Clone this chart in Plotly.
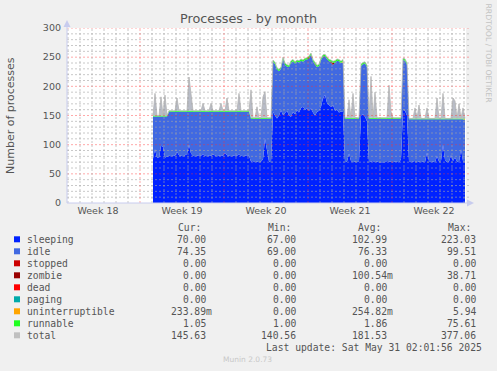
import numpy as np
import plotly.graph_objects as go

# ---------------- data ----------------
# time axis: hours since the Monday that opens "Week 18"; one sample every 4 hours
start_hour = 194
step_hours = 4

week_labels = ["Week 18", "Week 19", "Week 20", "Week 21", "Week 22"]
week_mid_hours = [84, 252, 420, 588, 756]

sleeping = [
    76, 92, 78, 77, 98, 96, 78, 80,
    81, 80, 82, 81, 88, 82, 81, 80, 82, 84, 100, 85, 81, 80, 81, 82, 81, 84, 81, 80,
    82, 81, 83, 81, 80, 81, 82, 81, 86, 82, 81, 80, 81, 82, 81, 84, 81, 80, 81, 82, 81,
    71, 72, 70, 71, 70, 71, 75, 110, 90, 71, 70,
    156, 150, 145, 150, 159, 151, 154, 158, 150, 148, 156, 152, 159, 155, 163, 165, 160, 162,
    158, 162, 155, 150, 156, 158, 165, 180, 185, 172, 168, 165, 168, 158, 160, 155, 157, 156,
    70, 71, 85, 72, 70, 71, 70, 72,
    150, 152, 148, 140,
    70, 71, 72, 70, 71, 70, 70, 71, 70, 72, 71, 70, 70, 71, 70, 70, 75,
    160, 158, 150,
    72, 70, 71, 72, 70, 71, 70, 71, 70, 86, 72, 70, 71, 70, 80, 71, 72, 100, 74, 70, 71,
    82, 72, 78, 71, 70, 92, 72, 70,
]

idle = [
    72.5, 56.5, 70.5, 71.5, 50.5, 52.5, 70.5, 68.5,
    75.5, 76.5, 74.5, 75.5, 68.5, 74.5, 75.5, 76.5, 74.5, 72.5, 56.5, 71.5, 75.5, 76.5, 75.5,
    74.5, 75.5, 72.5, 75.5, 76.5, 74.5, 75.5, 73.5, 75.5, 76.5, 75.5, 74.5, 75.5, 70.5, 74.5,
    75.5, 76.5, 75.5, 74.5, 75.5, 72.5, 75.5, 76.5, 75.5, 74.5, 75.5,
    73.5, 72.5, 74.5, 73.5, 74.5, 73.5, 69.5, 34.5, 54.5, 73.5, 74.5,
    86, 88, 84, 76, 71, 96, 83, 76, 83, 93, 87, 87, 83, 86, 81, 77, 85, 84,
    89.5, 92, 88, 87, 77, 77, 80, 71, 67, 75, 75, 75.5, 68.5, 83, 84, 88, 83, 85,
    74.5, 73.5, 59.5, 72.5, 74.5, 73.5, 74.5, 72.5,
    85, 86, 91, 93,
    74.5, 73.5, 72.5, 74.5, 73.5, 74.5, 74.5, 73.5, 74.5, 72.5, 73.5, 74.5, 74.5, 73.5, 74.5,
    74.5, 69.5,
    85, 86, 87,
    71.5, 73.5, 72.5, 71.5, 73.5, 72.5, 73.5, 72.5, 73.5, 57.5, 71.5, 73.5, 72.5, 73.5, 63.5,
    72.5, 71.5, 43.5, 69.5, 73.5, 72.5, 61.5, 71.5, 65.5, 72.5, 73.5, 51.5, 71.5, 72,
]

# sparse series: sample index -> value (all other samples are 0)
zombie_samples = {78: 1.5, 89: 1.5, 90: 3.5}
uninterruptible_samples = {95: 2.0, 156: 1.5}

runnable = [
    1.5, 1.5, 1.5, 1.5, 1.5, 1.5, 1.5, 1.5, 1.5, 1.5, 1.5, 1.5, 1.5, 1.5, 1.5, 1.5, 1.5, 1.5, 1.5, 1.5,
    1.5, 1.5, 1.5, 1.5, 1.5, 1.5, 1.5, 1.5, 1.5, 1.5, 1.5, 1.5, 1.5, 1.5, 1.5, 1.5, 1.5, 1.5, 1.5, 1.5,
    1.5, 1.5, 1.5, 1.5, 1.5, 1.5, 1.5, 1.5, 1.5, 1.5, 1.5, 1.5, 1.5, 1.5, 1.5, 1.5, 1.5, 1.5, 1.5, 1.5,
    3, 3, 3, 3, 3, 3, 3, 3, 3, 3, 3, 3, 3, 3, 3, 3, 3, 3,
    3, 3, 3, 3, 3, 3, 3, 3, 3, 3, 3, 3, 3, 3, 3, 3, 3, 3,
    1.5, 1.5, 1.5, 1.5, 1.5, 1.5, 1.5, 1.5,
    3, 3, 3, 3,
    1.5, 1.5, 1.5, 1.5, 1.5, 1.5, 1.5, 1.5, 1.5, 1.5, 1.5, 1.5, 1.5, 1.5, 1.5, 1.5, 1.5,
    3, 3, 3,
    1.5, 1.5, 1.5, 1.5, 1.5, 1.5, 1.5, 1.5, 1.5, 1.5, 1.5, 1.5, 1.5, 1.5, 1.5, 1.5, 1.5, 1.5, 1.5, 1.5,
    1.5, 1.5, 1.5, 1.5, 1.5, 1.5, 1.5, 1.5, 1.5,
]

total = [
    150, 188, 150, 150, 182, 150, 185, 150,
    158, 158, 158, 158, 180, 158, 158, 158, 158, 158, 216, 191, 158, 158, 158, 158, 158, 171,
    158, 158, 158, 171, 158, 158, 158, 158, 171, 158, 158, 180, 158, 158, 158, 158, 158, 188,
    158, 158, 158, 158, 158,
    194, 146, 146, 165, 146, 146, 182, 191, 146, 146, 146,
    245, 241, 232, 229, 233, 250, 240, 237, 236, 244, 246, 242, 245, 244, 247, 245, 248, 249,
    252, 257, 246, 240, 236, 238, 248, 254, 255, 250, 246, 245, 243, 244, 247, 246, 243, 246,
    146, 146, 177, 146, 188, 146, 146, 146,
    238, 241, 242, 236,
    146, 217, 146, 190, 146, 146, 146, 146, 146, 146, 202, 157, 146, 146, 146, 146, 146,
    248, 247, 240,
    145, 145, 145, 163, 145, 168, 145, 145, 145, 163, 145, 145, 145, 145, 180, 145, 145, 188,
    145, 145, 145, 145, 180, 175, 145, 170, 145, 163, 145,
]

n_points = len(sleeping)
for nm, arr in [("idle", idle), ("runnable", runnable), ("total", total)]:
    if len(arr) != n_points:
        raise SystemExit(f"length mismatch {nm}: {len(arr)} vs {n_points}")


def expand(samples):
    out = np.zeros(n_points)
    for i, v in samples.items():
        out[i] = v
    return out


zombie = expand(zombie_samples)
uninterruptible = expand(uninterruptible_samples)
stopped = np.zeros(n_points)
dead = np.zeros(n_points)
paging = np.zeros(n_points)

series_names = ["sleeping", "idle", "stopped", "zombie", "dead", "paging",
                "uninterruptible", "runnable", "total"]
series_colors = ["#0022ff", "#4169e1", "#cc0000", "#990000", "#ff0000", "#00aaaa",
                 "#ffa500", "#22ff22", "#c0c0c0"]
stat_cur = ["70.00", "74.35", "0.00", "0.00", "0.00", "0.00", "233.89m", "1.05", "145.63"]
stat_min = ["67.00", "69.00", "0.00", "0.00", "0.00", "0.00", "0.00", "1.00", "140.56"]
stat_avg = ["102.99", "76.33", "0.00", "100.54m", "0.00", "0.00", "254.82m", "1.86", "181.53"]
stat_max = ["223.03", "99.51", "0.00", "38.71", "0.00", "0.00", "5.94", "75.61", "377.06"]
last_update = "Last update: Sat May 31 02:01:56 2025"

# ---------------- geometry helpers ----------------
W, H = 497, 371
L, R, T, B = 67, 466, 28, 203
x_range = [22, 820]  # hours


def px(xp):
    return (xp - L) / (R - L)


def py(yp):
    return (B - yp) / (B - T)


x = start_hour + step_hours * np.arange(n_points)

fig = go.Figure()

stack = [sleeping, idle, stopped, zombie, dead, paging, uninterruptible, runnable]
cum = np.zeros(n_points)
for k, vals in enumerate(stack):
    cum = cum + np.asarray(vals, dtype=float)
    fig.add_trace(go.Scatter(
        x=x, y=cum.copy(), mode="lines", name=series_names[k],
        line=dict(width=0, color=series_colors[k]),
        fill="tozeroy" if k == 0 else "tonexty",
        fillcolor=series_colors[k], hoverinfo="skip"))

fig.add_trace(go.Scatter(
    x=x, y=total, mode="lines", name="total",
    line=dict(width=0.8, color="#b4b4b4"),
    fill="tonexty", fillcolor="rgba(178,182,194,0.92)", hoverinfo="skip"))

shapes = []
minor_col = "rgba(165,165,165,0.6)"
major_col = "rgba(255,50,50,0.42)"
grid_dash = "2px,2px"
# grid drawn over the data, as rrdtool does
for v in range(10, 301, 10):
    major = v % 50 == 0
    shapes.append(dict(type="line", xref="paper", yref="y", x0=0, x1=px(469), y0=v, y1=v,
                       layer="above",
                       line=dict(width=1, dash=grid_dash,
                                 color=major_col if major else minor_col)))
for h in range(24, x_range[1] + 1, 24):
    if h < x_range[0]:
        continue
    major = h % 168 == 0
    shapes.append(dict(type="line", xref="x", yref="paper", x0=h, x1=h, y0=0, y1=1,
                       layer="above",
                       line=dict(width=1, dash=grid_dash,
                                 color=major_col if major else minor_col)))

axis_col = "#c8ccee"
shapes.append(dict(type="line", xref="paper", yref="paper", x0=px(L), x1=px(L),
                   y0=0, y1=py(23), layer="above", line=dict(width=1, color=axis_col)))
shapes.append(dict(type="line", xref="paper", yref="paper", x0=0, x1=px(470),
                   y0=0, y1=0, layer="above", line=dict(width=1, color=axis_col)))
shapes.append(dict(type="path", xref="paper", yref="paper", layer="above",
                   path=f"M {px(63.5)} {py(27)} L {px(70.5)} {py(27)} L {px(67)} {py(20)} Z",
                   fillcolor=axis_col, line=dict(width=0)))
shapes.append(dict(type="path", xref="paper", yref="paper", layer="above",
                   path=f"M {px(467)} {py(199.5)} L {px(467)} {py(206.5)} L {px(474)} {py(203)} Z",
                   fillcolor=axis_col, line=dict(width=0)))

# legend squares
row_y0 = 239.3
row_dy = 12
for k, col in enumerate(series_colors):
    yc = row_y0 + k * row_dy
    shapes.append(dict(type="rect", xref="paper", yref="paper",
                       x0=px(14), x1=px(20), y0=py(yc + 3), y1=py(yc - 3),
                       fillcolor=col, line=dict(width=0)))

annotations = []
mono = dict(family="DejaVu Sans Mono", size=9.7, color="#555555")


def ann(text, xp, yp, anchor="left", font=mono, **kw):
    annotations.append(dict(text=text, xref="paper", yref="paper", x=px(xp), y=py(yp),
                            xanchor=anchor, yanchor="middle", showarrow=False,
                            font=font, borderpad=0, **kw))


header_y = 227.3
ann("Cur:", 176.5, header_y)
ann("Min:", 266.5, header_y)
ann("Avg:", 356.5, header_y)
ann("Max:", 446.5, header_y)


def with_suffix(s):
    return s if s.endswith("m") else s + "\u00a0"


for k, name in enumerate(series_names):
    yc = row_y0 + k * row_dy
    ann(name, 26, yc)
    ann(with_suffix(stat_cur[k]), 212.5, yc, anchor="right")
    ann(with_suffix(stat_min[k]), 303, yc, anchor="right")
    ann(with_suffix(stat_avg[k]), 393.5, yc, anchor="right")
    ann(with_suffix(stat_max[k]), 483, yc, anchor="right")
ann(last_update, 482.5, row_y0 + 9 * row_dy, anchor="right")

ann("Number of processes", 10.5, 115.5, anchor="center",
    font=dict(family="DejaVu Sans", size=11, color="#555555"), textangle=-90)
ann("RRDTOOL / TOBI OETIKER", 488, 53.5, anchor="center",
    font=dict(family="DejaVu Sans", size=7.7, color="#c4c4c4"), textangle=90)
ann("Munin 2.0.73", 247.7, 359.5, anchor="center",
    font=dict(family="DejaVu Sans", size=7.5, color="#c8c8c8"))

fig.update_layout(
    width=W, height=H,
    margin=dict(l=L, r=W - R, t=T, b=H - B, pad=0),
    paper_bgcolor="#f0f0f0", plot_bgcolor="#ffffff",
    showlegend=False,
    font=dict(family="DejaVu Sans", color="#555555"),
    title=dict(text="Processes - by month", x=0.5, xanchor="center", xref="container",
               y=1 - 19 / H, yanchor="middle", yref="container",
               font=dict(family="DejaVu Sans", size=12.8, color="#555555")),
    xaxis=dict(range=x_range, showgrid=False, zeroline=False, showline=False,
               tickmode="array", tickvals=week_mid_hours, ticktext=week_labels,
               ticks="", tickfont=dict(size=9.5, color="#555555"), fixedrange=True),
    yaxis=dict(range=[0, 300], showgrid=False, zeroline=False, showline=False,
               tickmode="array", tickvals=list(range(0, 301, 50)),
               ticks="", ticklabelstandoff=5,
               tickfont=dict(size=9.5, color="#555555"), fixedrange=True),
    shapes=shapes, annotations=annotations,
)

fig.write_html(
    "out.html",
    config={"displayModeBar": False, "responsive": False},
    post_script="document.body.style.margin='0';document.body.style.overflow='hidden';",
)
